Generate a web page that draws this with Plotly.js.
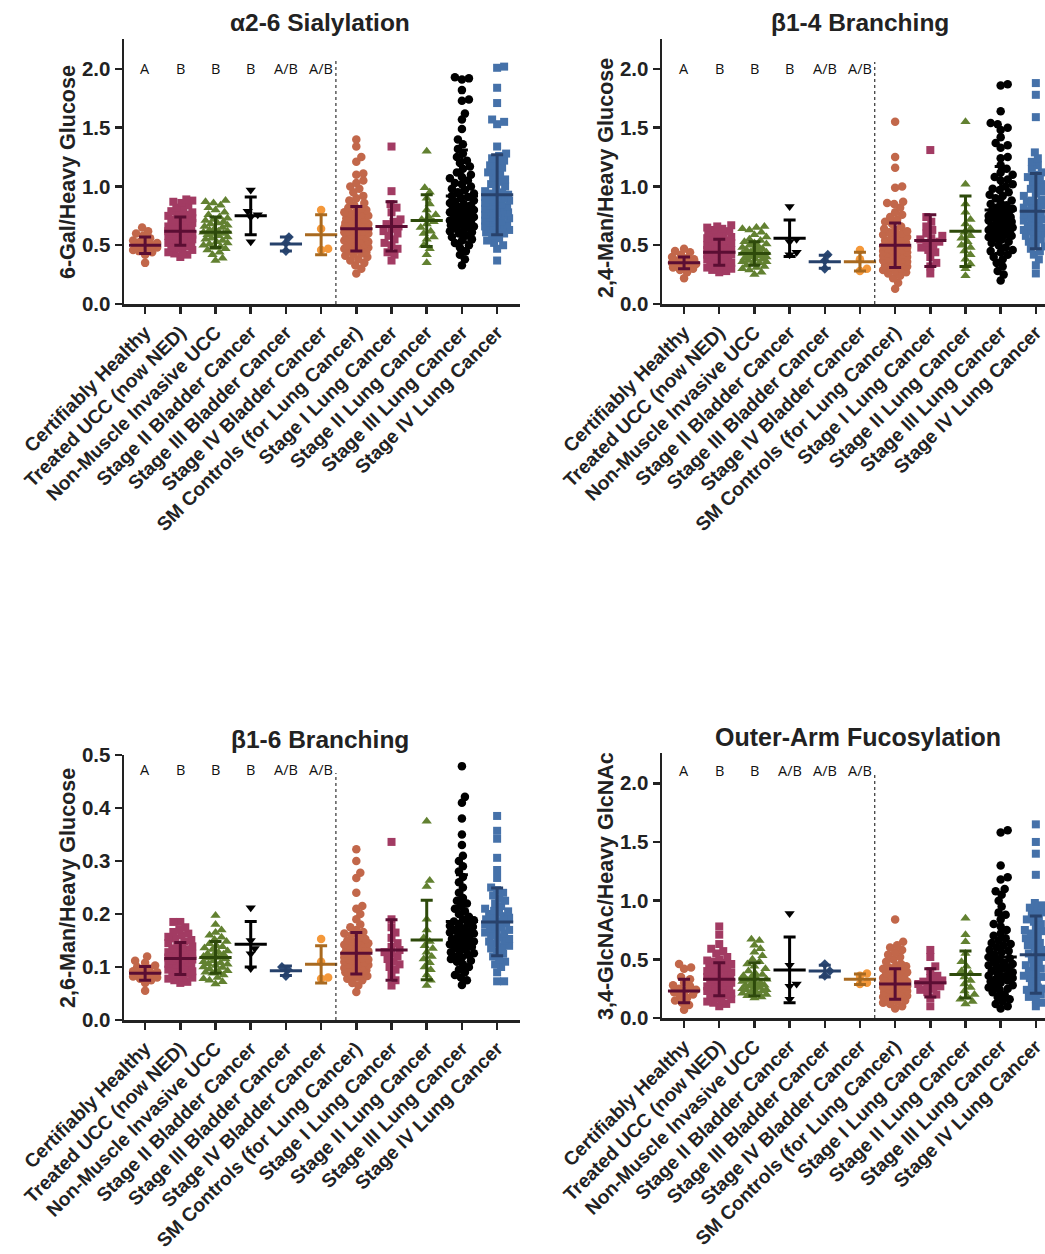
<!DOCTYPE html>
<html><head><meta charset="utf-8">
<script src="https://cdn.plot.ly/plotly-3.0.1.min.js"></script>
<style>body{margin:0;background:#fff}#chart{width:1045px;height:1254px}</style>
</head><body><div id="chart"></div>
<script>
const categories = ["Certifiably Healthy","Treated UCC (now NED)","Non-Muscle Invasive UCC","Stage II Bladder Cancer","Stage III Bladder Cancer","Stage IV Bladder Cancer","SM Controls (for Lung Cancer)","Stage I Lung Cancer","Stage II Lung Cancer","Stage III Lung Cancer","Stage IV Lung Cancer"];
const panelTitles = ["\u03b12-6 Sialylation","\u03b21-4 Branching","\u03b21-6 Branching","Outer-Arm Fucosylation"];
const yTitles = ["6-Gal/Heavy Glucose","2,4-Man/Heavy Glucose","2,6-Man/Heavy Glucose","3,4-GlcNAc/Heavy GlcNAc"];
const lettersA = ["A","B","B","B","A/B","A/B"];
const lettersB = ["A","B","B","A/B","A/B","A/B"];

// ---- α2-6 Sialylation ----
const sialylation = [
 [0.35,0.42,0.44,0.45,0.46,0.47,0.48,0.49,0.50,0.50,0.51,0.52,0.53,0.54,0.56,0.58,0.60,0.62,0.65],
 [0.40,0.42,0.43,0.44,0.45,0.46,0.47,0.48,0.49,0.50,0.50,0.51,0.52,0.53,0.54,0.55,0.55,0.56,0.57,0.58,0.58,0.59,0.60,0.60,0.61,0.62,0.62,0.63,0.64,0.64,0.65,0.66,0.66,0.67,0.68,0.69,0.70,0.70,0.71,0.72,0.73,0.74,0.75,0.76,0.77,0.78,0.79,0.80,0.82,0.84,0.86,0.87,0.88,0.89],
 [0.37,0.39,0.42,0.44,0.46,0.47,0.48,0.49,0.50,0.51,0.52,0.53,0.54,0.55,0.56,0.57,0.58,0.59,0.60,0.60,0.61,0.62,0.62,0.63,0.64,0.65,0.66,0.67,0.68,0.69,0.70,0.71,0.72,0.73,0.74,0.76,0.78,0.80,0.82,0.84,0.86,0.87,0.88],
 [0.97,0.79,0.76,0.74,0.53],
 [0.57,0.52,0.45],
 [0.80,0.64,0.47,0.46],
 [0.26,0.30,0.33,0.35,0.37,0.38,0.40,0.41,0.42,0.43,0.44,0.45,0.46,0.47,0.47,0.48,0.49,0.50,0.50,0.51,0.52,0.53,0.54,0.54,0.55,0.56,0.57,0.57,0.58,0.59,0.60,0.60,0.61,0.62,0.62,0.63,0.64,0.64,0.65,0.66,0.67,0.67,0.68,0.69,0.70,0.71,0.72,0.73,0.74,0.75,0.76,0.77,0.78,0.79,0.80,0.81,0.82,0.84,0.86,0.88,0.90,0.92,0.95,0.98,1.00,1.03,1.05,1.10,1.11,1.21,1.25,1.34,1.40],
 [1.34,0.96,0.85,0.82,0.78,0.72,0.70,0.68,0.66,0.64,0.62,0.60,0.58,0.55,0.52,0.50,0.47,0.44,0.42,0.37],
 [1.30,0.99,0.95,0.90,0.85,0.80,0.76,0.74,0.72,0.70,0.68,0.65,0.62,0.60,0.57,0.55,0.50,0.47,0.42,0.35],
 [0.33,0.38,0.42,0.45,0.48,0.50,0.52,0.54,0.55,0.57,0.58,0.60,0.61,0.62,0.63,0.64,0.65,0.66,0.67,0.68,0.69,0.70,0.70,0.71,0.72,0.73,0.74,0.75,0.75,0.76,0.77,0.78,0.79,0.80,0.80,0.81,0.82,0.83,0.84,0.85,0.86,0.87,0.88,0.90,0.91,0.92,0.94,0.95,0.97,0.98,1.00,1.02,1.03,1.05,1.07,1.08,1.10,1.12,1.15,1.17,1.20,1.22,1.25,1.28,1.32,1.36,1.40,1.49,1.57,1.62,1.73,1.74,1.82,1.91,1.92,1.93],
 [0.37,0.47,0.50,0.52,0.54,0.56,0.58,0.60,0.61,0.62,0.63,0.64,0.65,0.66,0.67,0.68,0.69,0.70,0.71,0.72,0.73,0.74,0.75,0.76,0.77,0.78,0.79,0.80,0.81,0.82,0.83,0.84,0.85,0.86,0.87,0.88,0.89,0.90,0.91,0.92,0.93,0.94,0.95,0.96,0.98,1.00,1.02,1.04,1.06,1.08,1.10,1.12,1.14,1.16,1.18,1.20,1.22,1.24,1.26,1.28,1.34,1.53,1.55,1.57,1.71,1.84,2.01,2.02]
];
const sialylationMean = [0.50,0.62,0.61,0.75,0.51,0.59,0.64,0.66,0.71,0.92,0.93];
const sialylationSD   = [0.07,0.12,0.13,0.16,0.06,0.17,0.19,0.21,0.22,0.39,0.34];

// ---- β1-4 Branching ----
const branching14 = [
 [0.22,0.27,0.29,0.30,0.31,0.32,0.33,0.34,0.35,0.35,0.36,0.37,0.38,0.39,0.40,0.42,0.44,0.45,0.47],
 [0.27,0.28,0.29,0.30,0.31,0.32,0.33,0.33,0.34,0.35,0.35,0.36,0.37,0.38,0.38,0.39,0.40,0.40,0.41,0.42,0.42,0.43,0.44,0.44,0.45,0.46,0.46,0.47,0.48,0.49,0.50,0.50,0.51,0.52,0.53,0.54,0.55,0.56,0.57,0.58,0.59,0.60,0.61,0.62,0.63,0.64,0.65,0.66,0.67],
 [0.25,0.27,0.29,0.30,0.31,0.32,0.33,0.34,0.35,0.36,0.36,0.37,0.38,0.38,0.39,0.40,0.40,0.41,0.41,0.42,0.43,0.43,0.44,0.44,0.45,0.46,0.47,0.47,0.48,0.49,0.50,0.51,0.52,0.53,0.54,0.55,0.57,0.59,0.61,0.63,0.64,0.65,0.66],
 [0.83,0.55,0.53,0.44,0.42],
 [0.42,0.37,0.30],
 [0.46,0.38,0.30,0.28],
 [0.13,0.18,0.22,0.24,0.26,0.27,0.28,0.29,0.30,0.31,0.32,0.33,0.33,0.34,0.35,0.36,0.36,0.37,0.38,0.38,0.39,0.40,0.40,0.41,0.42,0.42,0.43,0.44,0.44,0.45,0.46,0.46,0.47,0.48,0.48,0.49,0.50,0.51,0.52,0.53,0.54,0.55,0.56,0.57,0.58,0.59,0.60,0.61,0.62,0.63,0.64,0.66,0.68,0.70,0.72,0.74,0.76,0.78,0.82,0.85,0.86,0.87,0.99,1.00,1.16,1.25,1.55],
 [0.26,0.32,0.35,0.40,0.44,0.46,0.48,0.50,0.52,0.53,0.55,0.56,0.58,0.60,0.63,0.66,0.70,0.74,1.31],
 [0.24,0.30,0.34,0.38,0.42,0.45,0.48,0.50,0.53,0.56,0.58,0.61,0.64,0.68,0.72,0.78,0.85,1.02,1.55],
 [0.20,0.25,0.28,0.32,0.35,0.38,0.40,0.42,0.44,0.45,0.46,0.48,0.50,0.52,0.53,0.55,0.56,0.57,0.58,0.59,0.60,0.61,0.62,0.63,0.63,0.64,0.65,0.66,0.67,0.68,0.69,0.70,0.71,0.72,0.73,0.74,0.74,0.75,0.76,0.77,0.78,0.79,0.80,0.81,0.82,0.84,0.85,0.86,0.88,0.90,0.92,0.93,0.95,0.97,0.98,1.00,1.02,1.05,1.06,1.08,1.10,1.12,1.15,1.18,1.24,1.25,1.33,1.35,1.37,1.42,1.48,1.50,1.53,1.54,1.64,1.86,1.87],
 [0.26,0.33,0.38,0.42,0.45,0.47,0.49,0.51,0.53,0.55,0.57,0.58,0.60,0.61,0.62,0.63,0.64,0.65,0.66,0.67,0.68,0.69,0.70,0.71,0.72,0.73,0.74,0.75,0.76,0.77,0.78,0.79,0.80,0.81,0.82,0.83,0.84,0.85,0.86,0.87,0.88,0.89,0.90,0.92,0.94,0.96,0.98,1.00,1.02,1.04,1.06,1.08,1.10,1.12,1.15,1.18,1.21,1.24,1.29,1.59,1.78,1.88]
];
const branching14Mean = [0.35,0.44,0.43,0.56,0.36,0.36,0.50,0.54,0.62,0.80,0.79];
const branching14SD   = [0.05,0.11,0.10,0.155,0.055,0.08,0.19,0.22,0.30,0.37,0.32];

// ---- β1-6 Branching ----
const branching16 = [
 [0.055,0.07,0.075,0.078,0.08,0.082,0.085,0.087,0.088,0.09,0.092,0.095,0.097,0.10,0.103,0.108,0.112,0.12],
 [0.07,0.072,0.075,0.078,0.08,0.08,0.082,0.085,0.087,0.09,0.092,0.094,0.095,0.096,0.098,0.10,0.102,0.104,0.105,0.106,0.108,0.11,0.112,0.114,0.115,0.116,0.118,0.12,0.122,0.124,0.125,0.126,0.128,0.13,0.133,0.135,0.136,0.139,0.142,0.145,0.148,0.151,0.154,0.157,0.16,0.163,0.166,0.17,0.175,0.185,0.185],
 [0.068,0.072,0.075,0.078,0.08,0.085,0.088,0.09,0.092,0.093,0.096,0.099,0.10,0.103,0.105,0.106,0.108,0.11,0.112,0.115,0.117,0.118,0.12,0.122,0.124,0.125,0.128,0.13,0.133,0.136,0.138,0.14,0.144,0.148,0.152,0.156,0.16,0.165,0.17,0.18,0.197],
 [0.212,0.15,0.135,0.125,0.097],
 [0.10,0.095,0.083],
 [0.153,0.11,0.08,0.078],
 [0.053,0.065,0.07,0.075,0.078,0.08,0.083,0.085,0.088,0.09,0.092,0.094,0.095,0.096,0.098,0.10,0.102,0.104,0.105,0.106,0.108,0.11,0.112,0.114,0.115,0.115,0.117,0.118,0.12,0.122,0.123,0.125,0.125,0.127,0.128,0.13,0.132,0.134,0.135,0.136,0.138,0.14,0.142,0.144,0.145,0.146,0.148,0.15,0.153,0.156,0.16,0.163,0.166,0.17,0.175,0.18,0.19,0.20,0.21,0.215,0.24,0.268,0.278,0.30,0.322],
 [0.065,0.075,0.085,0.095,0.10,0.105,0.11,0.115,0.12,0.125,0.128,0.132,0.138,0.145,0.155,0.165,0.175,0.19,0.336],
 [0.065,0.075,0.085,0.095,0.10,0.108,0.115,0.12,0.128,0.135,0.14,0.148,0.155,0.17,0.19,0.252,0.263,0.375],
 [0.066,0.075,0.08,0.085,0.09,0.095,0.10,0.105,0.11,0.112,0.115,0.118,0.12,0.123,0.126,0.128,0.13,0.133,0.136,0.138,0.14,0.143,0.145,0.146,0.148,0.15,0.153,0.156,0.158,0.16,0.163,0.165,0.166,0.168,0.17,0.173,0.176,0.178,0.18,0.183,0.186,0.188,0.19,0.195,0.20,0.205,0.21,0.215,0.22,0.225,0.23,0.24,0.25,0.26,0.27,0.28,0.29,0.30,0.31,0.33,0.35,0.38,0.41,0.421,0.479],
 [0.073,0.073,0.09,0.10,0.105,0.11,0.115,0.12,0.125,0.13,0.135,0.138,0.14,0.145,0.148,0.15,0.153,0.156,0.16,0.163,0.165,0.166,0.17,0.173,0.175,0.176,0.18,0.183,0.185,0.186,0.19,0.193,0.195,0.196,0.20,0.203,0.205,0.206,0.21,0.215,0.22,0.225,0.23,0.235,0.24,0.245,0.25,0.268,0.283,0.306,0.342,0.357,0.385]
];
const branching16Mean = [0.088,0.116,0.118,0.143,0.093,0.105,0.126,0.132,0.151,0.186,0.185];
const branching16SD   = [0.013,0.03,0.03,0.043,0.009,0.035,0.039,0.057,0.075,0.088,0.064];

// ---- Outer-Arm Fucosylation ----
const fucosylation = [
 [0.07,0.11,0.13,0.15,0.17,0.19,0.20,0.22,0.23,0.24,0.25,0.27,0.28,0.30,0.33,0.35,0.42,0.43,0.46],
 [0.10,0.12,0.13,0.14,0.15,0.16,0.17,0.18,0.19,0.20,0.21,0.22,0.23,0.24,0.25,0.25,0.26,0.27,0.28,0.29,0.30,0.30,0.31,0.32,0.33,0.34,0.35,0.35,0.36,0.37,0.38,0.39,0.40,0.41,0.42,0.43,0.44,0.45,0.46,0.47,0.48,0.49,0.50,0.52,0.55,0.57,0.59,0.63,0.71,0.78],
 [0.17,0.18,0.19,0.20,0.21,0.22,0.22,0.23,0.24,0.24,0.25,0.26,0.26,0.27,0.28,0.28,0.29,0.30,0.30,0.31,0.32,0.33,0.34,0.35,0.36,0.37,0.38,0.40,0.42,0.44,0.46,0.48,0.50,0.53,0.56,0.59,0.62,0.66,0.67],
 [0.89,0.45,0.29,0.27,0.16],
 [0.46,0.40,0.36],
 [0.38,0.36,0.30,0.29],
 [0.08,0.10,0.12,0.13,0.14,0.15,0.16,0.17,0.18,0.18,0.19,0.20,0.20,0.21,0.22,0.22,0.22,0.23,0.24,0.24,0.25,0.26,0.26,0.26,0.27,0.28,0.28,0.29,0.30,0.30,0.31,0.32,0.32,0.33,0.34,0.35,0.36,0.37,0.38,0.39,0.40,0.41,0.42,0.43,0.44,0.45,0.46,0.48,0.50,0.52,0.54,0.56,0.58,0.60,0.62,0.65,0.84],
 [0.10,0.17,0.20,0.22,0.24,0.25,0.27,0.28,0.29,0.30,0.31,0.32,0.34,0.36,0.40,0.44,0.52,0.58],
 [0.12,0.14,0.16,0.18,0.20,0.23,0.26,0.29,0.32,0.35,0.38,0.40,0.44,0.48,0.55,0.65,0.71,0.85],
 [0.08,0.10,0.12,0.14,0.16,0.18,0.20,0.22,0.24,0.25,0.26,0.27,0.28,0.30,0.31,0.32,0.33,0.34,0.35,0.36,0.37,0.38,0.39,0.40,0.42,0.43,0.44,0.45,0.46,0.47,0.48,0.50,0.51,0.52,0.54,0.56,0.57,0.58,0.60,0.62,0.63,0.64,0.66,0.68,0.70,0.72,0.75,0.78,0.80,0.84,0.88,0.90,0.95,1.00,1.05,1.08,1.10,1.18,1.20,1.30,1.58,1.60],
 [0.10,0.13,0.16,0.18,0.20,0.22,0.24,0.25,0.26,0.28,0.30,0.32,0.34,0.35,0.36,0.38,0.40,0.42,0.44,0.45,0.46,0.48,0.50,0.52,0.54,0.55,0.56,0.58,0.60,0.62,0.64,0.65,0.66,0.68,0.70,0.72,0.74,0.75,0.76,0.78,0.80,0.82,0.84,0.86,0.88,0.90,0.92,0.94,0.96,0.98,1.22,1.40,1.50,1.65]
];
const fucosylationMean = [0.23,0.33,0.33,0.41,0.40,0.33,0.29,0.30,0.37,0.52,0.54];
const fucosylationSD   = [0.10,0.14,0.14,0.28,0.05,0.045,0.13,0.12,0.20,0.36,0.33];

// ---- styles ----
const dotColor = ["#C2674A","#A23B63","#628131","#000000","#2C4A76","#F4983A","#C2674A","#A23B63","#628131","#000000","#4571A9"];
const barColor = ["#5B0E33","#5B0E33","#2E4A0B","#000000","#26416B","#A8691F","#5B0E33","#5B0E33","#2E4A0B","#000000","#28426C"];
const symbols  = ["circle","square","triangle-up","triangle-down","diamond","circle","circle","square","triangle-up","circle","square"];
const symSize  = [8.5,8,9,9,7.5,8.5,8.5,8,9,8.5,8];

const W = 1045, H = 1254;
const panels = [
 {vals: sialylation, mean: sialylationMean, sd: sialylationSD, letters: lettersA, letterY: 2.0,
  xpx:[124,520], ypx:[304,39], yr:[0,2.255], xr:[-0.6,10.65], dtick:0.5, fmt:'.1f', dashTop:2.09,
  title:{x:320,y:22}, ytitle:{x:68,y:172}},
 {vals: branching14, mean: branching14Mean, sd: branching14SD, letters: lettersA, letterY: 2.0,
  xpx:[662,1045], ypx:[304,39], yr:[0,2.255], xr:[-0.627,10.26], dtick:0.5, fmt:'.1f', dashTop:2.06,
  title:{x:860,y:22}, ytitle:{x:606,y:178}},
 {vals: branching16, mean: branching16Mean, sd: branching16SD, letters: lettersA, letterY: 0.472,
  xpx:[124,520], ypx:[1020,755], yr:[0,0.5], xr:[-0.6,10.65], dtick:0.1, fmt:'.1f', dashTop:0.466,
  title:{x:320,y:739}, ytitle:{x:68,y:888}},
 {vals: fucosylation, mean: fucosylationMean, sd: fucosylationSD, letters: lettersB, letterY: 2.11,
  xpx:[662,1045], ypx:[1018,753], yr:[0,2.258], xr:[-0.627,10.26], dtick:0.5, fmt:'.1f', dashTop:2.09,
  title:{x:858,y:737}, ytitle:{x:606,y:886}}
];

function swarm(vals, yScale) {
  const D = 6.5, maxW = 12;
  const idx = vals.map((v,i)=>i).sort((a,b)=>vals[a]-vals[b]);
  const placed = [], off = new Array(vals.length);
  for (const i of idx) {
    const y = vals[i]*yScale;
    let best = 0, bestD = -1;
    for (let k=0; k<=2*maxW; k++) {
      const o = (k%2===1 ? 1 : -1) * Math.ceil(k/2);
      let md = Infinity;
      for (const p of placed) {
        const dy = y-p.y; if (Math.abs(dy) >= D) continue;
        md = Math.min(md, Math.hypot(o-p.x, dy));
      }
      if (md >= D) { best = o; bestD = md; break; }
      if (md > bestD) { bestD = md; best = o; }
    }
    placed.push({x:best, y}); off[i] = best;
  }
  return off;
}

const traces = [], annotations = [], shapes = [], layout = {
  width: W, height: H, margin:{l:0,r:0,t:0,b:0}, showlegend:false,
  paper_bgcolor:'#fff', plot_bgcolor:'rgba(0,0,0,0)'
};
const fontFam = 'Liberation Sans, Arial, sans-serif';

panels.forEach((P, pi) => {
  const n = pi===0 ? '' : String(pi+1);
  const xa = 'x'+n, ya = 'y'+n;
  const xPerCat = (P.xpx[1]-P.xpx[0])/(P.xr[1]-P.xr[0]);
  const yScale = (P.ypx[0]-P.ypx[1])/(P.yr[1]-P.yr[0]);
  layout['xaxis'+n] = {
    domain:[P.xpx[0]/W, P.xpx[1]/W], range:P.xr, anchor:ya,
    tickvals: categories.map((c,i)=>i), ticktext: categories, tickangle:-45,
    ticklabeloverflow:'allow',
    ticks:'outside', ticklen:7, tickwidth:2.5, tickcolor:'#222',
    showline:true, linewidth:2.5, linecolor:'#222', showgrid:false, zeroline:false,
    tickfont:{family:fontFam, size:19.3, color:'#222', weight:'bold'}
  };
  layout['yaxis'+n] = {
    domain:[1-P.ypx[0]/H, 1-P.ypx[1]/H], range:P.yr, anchor:xa,
    tick0:0, dtick:P.dtick, tickformat:P.fmt,
    ticks:'outside', ticklen:7, tickwidth:2.5, tickcolor:'#222',
    showline:true, linewidth:2.5, linecolor:'#222', showgrid:false, zeroline:false,
    tickfont:{family:fontFam, size:20.5, color:'#222', weight:'bold'}
  };
  P.vals.forEach((vals, g) => {
    const off = swarm(vals, yScale);
    traces.push({
      type:'scatter', mode:'markers', xaxis:xa, yaxis:ya, hoverinfo:'skip', cliponaxis:false,
      x: vals.map((v,i)=> g + off[i]/xPerCat), y: vals,
      marker:{symbol:symbols[g], size:symSize[g], color:dotColor[g], line:{width:0}}
    });
  });
  P.mean.forEach((m, g) => {
    traces.push({
      type:'scatter', mode:'markers', xaxis:xa, yaxis:ya, hoverinfo:'skip', cliponaxis:false,
      x:[g], y:[m],
      error_y:{type:'data', array:[P.sd[g]], visible:true, thickness:3, width:6, color:barColor[g]},
      marker:{symbol:'line-ew', size:23, color:barColor[g], line:{width:3, color:barColor[g]}}
    });
  });
  P.letters.forEach((t, g) => {
    annotations.push({xref:xa, yref:ya, x:g, y:P.letterY, text:t, showarrow:false,
      font:{family:'Open Sans, sans-serif', size:14.5, color:'#111'}});
  });
  shapes.push({type:'line', xref:xa, yref:ya, x0:5.42, x1:5.42, y0:0, y1:P.dashTop,
    line:{color:'#333', width:1.2, dash:'3px,3px'}});
  annotations.push({xref:'paper', yref:'paper', x:P.title.x/W, y:1-P.title.y/H, text:panelTitles[pi],
    showarrow:false, xanchor:'center', yanchor:'middle',
    font:{family:fontFam, size:pi===3 ? 25 : 24.5, color:'#222', weight:'bold'}});
  annotations.push({xref:'paper', yref:'paper', x:P.ytitle.x/W, y:1-P.ytitle.y/H, text:yTitles[pi],
    showarrow:false, xanchor:'center', yanchor:'middle', textangle:-90,
    font:{family:fontFam, size:21.5, color:'#222', weight:'bold'}});
});
layout.annotations = annotations;
layout.shapes = shapes;
Plotly.newPlot('chart', traces, layout, {displayModeBar:false, staticPlot:true});
</script>
</body></html>
